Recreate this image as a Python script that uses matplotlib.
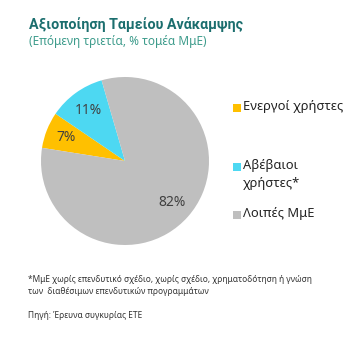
import matplotlib
matplotlib.use("Agg")
import matplotlib.pyplot as plt
from matplotlib.patches import Rectangle

plt.rcParams['font.family'] = ['Noto Sans', 'DejaVu Sans']

categories = ["Ενεργοί χρήστες", "Αβέβαιοι\nχρήστες*", "Λοιπές ΜμΕ"]
values = [7, 11, 82]
colors = ["#FFC000", "#4DD8F2", "#BFBFBF"]
title1 = "Αξιοποίηση Ταμείου Ανάκαμψης"
title2 = "(Επόμενη τριετία, % τομέα ΜμΕ)"
foot1 = "*ΜμΕ χωρίς επενδυτικό σχέδιο, χωρίς σχέδιο, χρηματοδότηση ή γνώση"
foot2 = "των  διαθέσιμων επενδυτικών προγραμμάτων"
source = "Πηγή: Έρευνα συγκυρίας ΕΤΕ"

W, H = 359, 363
fig = plt.figure(figsize=(W / 100, H / 100), dpi=100)
fig.patch.set_facecolor("white")

cx, cy, r = 125, 161, 84
ax = fig.add_axes([(cx - r) / W, (H - cy - r) / H, 2 * r / W, 2 * r / H])
wedges, texts, autotexts = ax.pie(
    values, colors=colors, startangle=171, counterclock=False,
    autopct=lambda p: f"{p:.0f}%", pctdistance=0.75, radius=1,
    wedgeprops=dict(linewidth=0),
    textprops=dict(color="#404040", fontsize=10))
ax.set_xlim(-1, 1)
ax.set_ylim(-1, 1)
ax.set_aspect("equal")
ax.axis("off")

def px(x, y):
    return x / W, 1 - y / H

fig.text(*px(29, 25), title1, color="#1B6E6E", fontsize=10.3, va="center", ha="left",
         fontweight="bold", family=["Roboto", "DejaVu Sans"])
fig.text(*px(29, 41), title2, color="#3E9C8C", fontsize=8.5, va="center", ha="left")

leg_y = [108, 167, 215]
for lab, col, y in zip(categories, colors, leg_y):
    sx, sy = px(233, y + 4)
    fig.patches.append(Rectangle((sx, sy), 8 / W, 8 / H, transform=fig.transFigure,
                                 facecolor=col, edgecolor="none"))
    fig.text(*px(243, y - 8), lab, color="#222222", fontsize=9.3, va="top", ha="left",
             linespacing=1.5)

fig.text(*px(28, 280), foot1, color="#333333", fontsize=6.0, va="center", ha="left")
fig.text(*px(28, 292), foot2, color="#333333", fontsize=6.0, va="center", ha="left")
fig.text(*px(28, 315), source, color="#333333", fontsize=6.0, va="center", ha="left")

fig.savefig("out.png", dpi=100, facecolor="white")
